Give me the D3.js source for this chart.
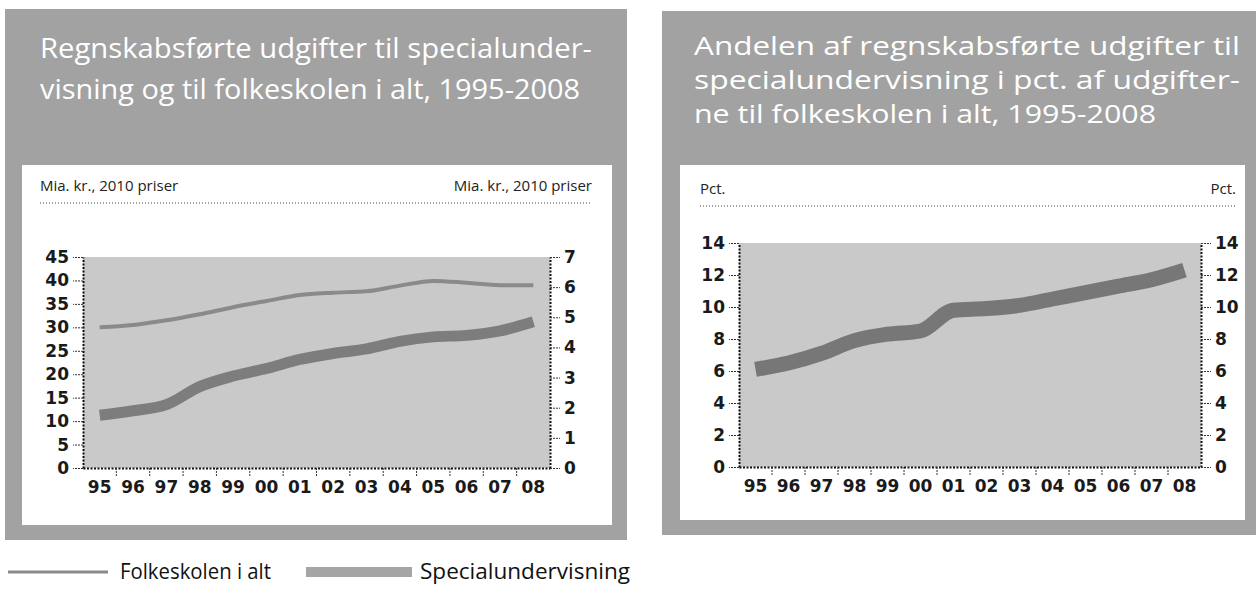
<!DOCTYPE html>
<html>
<head>
<meta charset="utf-8">
<script src="https://cdn.jsdelivr.net/npm/d3@7"></script>
<style>
  body { margin: 0; background: #fff; }
  svg { display: block; }
  .tick text { font-family: "DejaVu Sans", Verdana, sans-serif; font-weight: bold; fill: #1a1a1a; }
</style>
</head>
<body>
<div class="chart"></div>
<script>
const years = ["95", "96", "97", "98", "99", "00", "01", "02", "03", "04", "05", "06", "07", "08"];
// mia. kr., 2010 priser
const folkeskolen = [30.0, 30.5, 31.5, 32.8, 34.3, 35.6, 36.9, 37.4, 37.7, 38.9, 39.9, 39.5, 39.0, 39.0];
const special = [1.75, 1.9, 2.1, 2.7, 3.05, 3.3, 3.6, 3.8, 3.95, 4.2, 4.35, 4.4, 4.55, 4.85];
// pct.
const andel = [6.1, 6.5, 7.1, 7.9, 8.3, 8.5, 9.8, 9.9, 10.1, 10.5, 10.9, 11.3, 11.7, 12.3];

const leftTicks = [0, 5, 10, 15, 20, 25, 30, 35, 40, 45];
const rightTicks = [0, 1, 2, 3, 4, 5, 6, 7];
const pctTicks = [0, 2, 4, 6, 8, 10, 12, 14];

const title1 = ["Regnskabsførte udgifter til specialunder-", "visning og til folkeskolen i alt, 1995-2008"];
const title2 = ["Andelen af regnskabsførte udgifter til", "specialundervisning i pct. af udgifter-", "ne til folkeskolen i alt, 1995-2008"];

const frameGrey = "#a2a2a2";
const plotGrey = "#c9c9c9";

let svg = d3
  .select(".chart")
  .append("svg")
  .attr("width", 1258)
  .attr("height", 590);

function frame(x, y, w, h, inner) {
  svg.append("rect").attr("x", x).attr("y", y).attr("width", w).attr("height", h).attr("fill", frameGrey);
  svg.append("rect").attr("x", inner.x).attr("y", inner.y).attr("width", inner.w).attr("height", inner.h).attr("fill", "#fff");
}

function titleLines(lines, x, y0, dy, size, widths) {
  lines.forEach((t, i) => {
    svg.append("text")
      .attr("x", x).attr("y", y0 + i * dy)
      .attr("textLength", widths[i]).attr("lengthAdjust", "spacingAndGlyphs")
      .style("font-family", "'Open Sans', sans-serif").style("font-size", size + "px")
      .style("fill", "#fff")
      .text(t);
  });
}

function unitRow(left, right, x0, x1, y) {
  svg.append("text").attr("x", x0).attr("y", y)
    .style("font-family", "'Open Sans', sans-serif").style("font-size", "15px").style("fill", "#222")
    .text(left);
  svg.append("text").attr("x", x1).attr("y", y).attr("text-anchor", "end")
    .style("font-family", "'Open Sans', sans-serif").style("font-size", "15px").style("fill", "#222")
    .text(right);
  svg.append("line").attr("x1", x0).attr("x2", x1).attr("y1", y + 12).attr("y2", y + 12)
    .attr("stroke", "#444").attr("stroke-width", 1).attr("stroke-dasharray", "1,2");
}

function styleAxis(g) {
  g.select(".domain").attr("stroke", "#111").attr("stroke-width", 2).attr("stroke-dasharray", "2,1.5");
  g.selectAll(".tick line").attr("stroke", "#333").attr("stroke-width", 1).attr("stroke-dasharray", "2,1");
  g.selectAll(".tick text").style("font-size", "17px");
}

// plot: box, x band scale, left / right axes
function plotArea(x0, x1, yBottom, yTop, leftDomain, leftTickVals, rightDomain, rightTickVals) {
  const x = d3.scaleBand().domain(years).range([x0, x1]);
  const yL = d3.scaleLinear().domain(leftDomain).range([yBottom, yTop]);
  const yR = d3.scaleLinear().domain(rightDomain).range([yBottom, yTop]);

  svg.append("rect").attr("x", x0).attr("y", yTop).attr("width", x1 - x0).attr("height", yBottom - yTop)
    .attr("fill", plotGrey);

  let gx = svg.append("g").attr("transform", `translate(0, ${yBottom})`)
    .call(d3.axisBottom(x).tickSize(0).tickPadding(13));
  styleAxis(gx);

  // boundary ticks between years
  svg.append("g").selectAll("line")
    .data(years.slice(1))
    .enter()
    .append("line")
    .attr("x1", d => x(d)).attr("x2", d => x(d))
    .attr("y1", yBottom).attr("y2", yBottom + 9)
    .attr("stroke", "#333").attr("stroke-dasharray", "2,1");

  let gl = svg.append("g").attr("transform", `translate(${x0}, 0)`)
    .call(d3.axisLeft(yL).tickValues(leftTickVals).tickFormat(d3.format("d"))
      .tickSize(10).tickPadding(4).tickSizeOuter(0));
  styleAxis(gl);

  let gr = svg.append("g").attr("transform", `translate(${x1}, 0)`)
    .call(d3.axisRight(yR).tickValues(rightTickVals).tickFormat(d3.format("d"))
      .tickSize(10).tickPadding(4).tickSizeOuter(0));
  styleAxis(gr);

  return { x, yL, yR, cx: d => x(d) + x.bandwidth() / 2 };
}

// ---- left panel
frame(5, 9, 622, 531, { x: 22, y: 165, w: 590, h: 360 });
titleLines(title1, 40, 58, 41, 28, [552, 540]);
unitRow("Mia. kr., 2010 priser", "Mia. kr., 2010 priser", 40, 592, 191);

let p1 = plotArea(83, 550, 468, 257, [0, 45], leftTicks, [0, 7], rightTicks);

svg.append("path")
  .datum(special)
  .attr("fill", "none")
  .attr("stroke", "#7d7d7d")
  .attr("stroke-width", 11)
  .attr("stroke-linejoin", "round")
  .attr("d", d3.line().curve(d3.curveMonotoneX).x((d, i) => p1.cx(years[i])).y(d => p1.yR(d)));

svg.append("path")
  .datum(folkeskolen)
  .attr("fill", "none")
  .attr("stroke", "#8a8a8a")
  .attr("stroke-width", 4)
  .attr("d", d3.line().curve(d3.curveMonotoneX).x((d, i) => p1.cx(years[i])).y(d => p1.yL(d)));

// ---- right panel
frame(662, 11, 594, 524, { x: 680, y: 165, w: 565, h: 355 });
titleLines(title2, 694, 55, 34, 26, [546, 546, 462]);
unitRow("Pct.", "Pct.", 700, 1236, 194);

let p2 = plotArea(739, 1201, 467, 243, [0, 14], pctTicks, [0, 14], pctTicks);

svg.append("path")
  .datum(andel)
  .attr("fill", "none")
  .attr("stroke", "#777")
  .attr("stroke-width", 15)
  .attr("stroke-linejoin", "round")
  .attr("d", d3.line().curve(d3.curveMonotoneX).x((d, i) => p2.cx(years[i])).y(d => p2.yL(d)));

// ---- legend
const legendItems = [
  { label: "Folkeskolen i alt", x: 8, w: 100, sw: 3, color: "#8a8a8a", gap: 12, tw: 151 },
  { label: "Specialundervisning", x: 306, w: 106, sw: 10, color: "#a5a5a5", gap: 8, tw: 210 }
];
let legend = svg.append("g").attr("transform", "translate(0, 572)");
legend.selectAll("line")
  .data(legendItems)
  .enter()
  .append("line")
  .attr("x1", d => d.x).attr("x2", d => d.x + d.w)
  .attr("stroke", d => d.color).attr("stroke-width", d => d.sw);
legend.selectAll("text")
  .data(legendItems)
  .enter()
  .append("text")
  .attr("x", d => d.x + d.w + d.gap).attr("y", 7)
  .attr("textLength", d => d.tw).attr("lengthAdjust", "spacingAndGlyphs")
  .style("font-family", "'Open Sans', sans-serif").style("font-size", "21px").style("fill", "#111")
  .text(d => d.label);
</script>
</body>
</html>
